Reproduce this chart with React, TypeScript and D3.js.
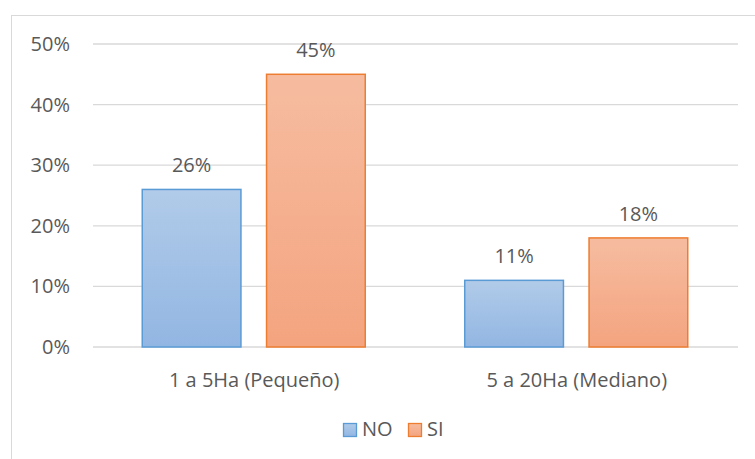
import React from "react";
import * as d3 from "d3";

const categories = ["1 a 5Ha (Pequeño)", "5 a 20Ha (Mediano)"];
const series = ["NO", "SI"];
const noValues = [0.26, 0.11];
const siValues = [0.45, 0.18];
const yTicks = [0, 0.1, 0.2, 0.3, 0.4, 0.5];

const width = 755;
const height = 459;
const margin = { top: 44, right: 17, bottom: 112, left: 93 };

const fills = ["url(#gradNo)", "url(#gradSi)"];
const strokes = ["#5b9bd5", "#ed7d31"];
const textColor = "#595959";
const font = "'Open Sans', sans-serif";
const fs = 20;

export default function App() {
  const x = d3
    .scaleBand<string>()
    .domain(categories)
    .range([margin.left, width - margin.right]);

  // two bars of ~100px with a ~23px gap per category
  const xInner = d3.scaleBand<string>().domain(series).range([0, 223]).paddingInner(0.206);

  const y = d3
    .scaleLinear()
    .domain([0, 0.5])
    .range([height - margin.bottom, margin.top]);

  const fmt = d3.format(".0%");
  const values = [noValues, siValues];

  return (
    <svg
      width={width}
      height={height}
      style={{ position: "absolute", left: 0, top: 0, fontFamily: font }}
    >
      <defs>
        <linearGradient id="gradNo" x1="0" y1="0" x2="0" y2="1">
          <stop offset="0%" stopColor="#b1cbe9" />
          <stop offset="100%" stopColor="#92b6e2" />
        </linearGradient>
        <linearGradient id="gradSi" x1="0" y1="0" x2="0" y2="1">
          <stop offset="0%" stopColor="#f6bca0" />
          <stop offset="100%" stopColor="#f4a47f" />
        </linearGradient>
      </defs>
      <rect x={11.5} y={15.5} width={760} height={460} fill="white" stroke="#d9d9d9" />

      {yTicks.map((t) => (
        <g key={t}>
          <line
            x1={margin.left}
            x2={width - margin.right}
            y1={y(t)}
            y2={y(t)}
            stroke="#d9d9d9"
            strokeWidth={1.3}
          />
          <text
            x={70}
            y={y(t)}
            dy="0.35em"
            textAnchor="end"
            fontSize={fs}
            fill={textColor}
          >
            {fmt(t)}
          </text>
        </g>
      ))}

      {categories.map((c, ci) => {
        const gx = (x(c) as number) + x.bandwidth() / 2 - 112;
        return (
          <g key={c}>
            {series.map((s, si) => {
              const v = values[si][ci];
              const bx = gx + (xInner(s) as number);
              return (
                <g key={s}>
                  <rect
                    x={bx}
                    y={y(v)}
                    width={xInner.bandwidth()}
                    height={y(0) - y(v)}
                    fill={fills[si]}
                    stroke={strokes[si]}
                    strokeWidth={1.5}
                  />
                  <text
                    x={bx + xInner.bandwidth() / 2}
                    y={y(v) - 17}
                    textAnchor="middle"
                    fontSize={fs}
                    fill={textColor}
                  >
                    {fmt(v)}
                  </text>
                </g>
              );
            })}
            <text
              x={(x(c) as number) + x.bandwidth() / 2}
              y={387}
              textAnchor="middle"
              fontSize={fs}
              fill={textColor}
            >
              {c}
            </text>
          </g>
        );
      })}

      <g>
        {series.map((s, si) => {
          const lx = si === 0 ? 343 : 408;
          return (
            <g key={s}>
              <rect
                x={lx + 0.5}
                y={423.5}
                width={13}
                height={13}
                fill={fills[si]}
                stroke={strokes[si]}
                strokeWidth={1.3}
              />
              <text x={lx + 19} y={436} fontSize={fs} fill={textColor}>
                {s}
              </text>
            </g>
          );
        })}
      </g>
    </svg>
  );
}
